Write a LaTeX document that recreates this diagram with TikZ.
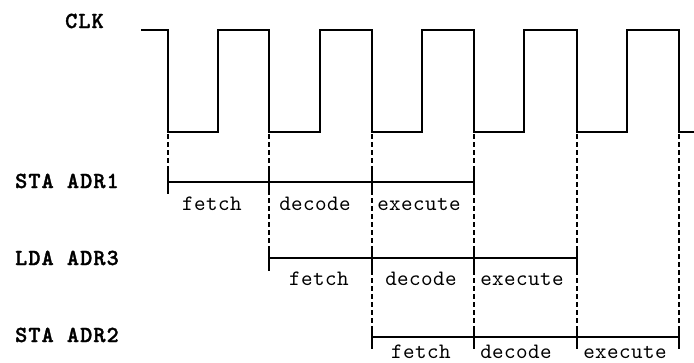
\documentclass[tikz,border=0pt]{standalone}
\usepackage{fontspec}
\newfontfamily\courfont{lmmono10-regular.otf}[LetterSpace=2]
\newfontfamily\courbfont{lmmonolt10-bold.otf}[LetterSpace=5,FakeBold=1.5]
\begin{document}
\begin{tikzpicture}[x=1pt,y=-1pt,
  sig/.style={line width=1.3pt},
  seg/.style={line width=1.2pt},
  guide/.style={line width=1.1pt,dash pattern=on 5pt off 3pt},
  lab/.style={anchor=base west,inner sep=0pt,font=\courbfont\fontsize{23}{23}\selectfont},
  phase/.style={anchor=base,inner sep=0pt,font=\courfont\fontsize{22}{22}\selectfont}]
\useasboundingbox (0,0) rectangle (694,362);
% clock
\draw[sig] (141,30) -- (168,30) -- (168,132) -- (218,132) -- (218,30) -- (269,30) -- (269,132)
  -- (320,132) -- (320,30) -- (372,30) -- (372,132) -- (422,132) -- (422,30) -- (474,30)
  -- (474,132) -- (524,132) -- (524,30) -- (577,30) -- (577,132) -- (627,132) -- (627,30)
  -- (679,30) -- (679,132) -- (694,132);
% guides
\draw[guide] (168,134) -- (168,172);
\draw[guide] (269,134) -- (269,248);
\foreach \x in {372,474,577,679} \draw[guide] (\x,134) -- (\x,326);
% instruction lines
\draw[seg] (168,182) -- (474,182);
\foreach \x in {168,269,372,474} \draw[seg] (\x,171) -- (\x,194);
\draw[seg] (269,258) -- (577,258);
\foreach \x in {269,372,474,577} \draw[seg] (\x,247) -- (\x,271);
\draw[seg] (372,337) -- (679,337);
\foreach \x in {372,474,577,679} \draw[seg] (\x,326) -- (\x,349);
% labels
\node[lab] (clk) at (65,28) {CLK};
\node[lab] (i1) at (15,188) {STA ADR1};
\node[lab] (i2) at (15,265) {LDA ADR3};
\node[lab] (i3) at (15,342) {STA ADR2};
% phases
\node[phase] (f1) at (212,210) {fetch};
\node[phase] (d1) at (315,210) {decode};
\node[phase] (e1) at (419,210) {execute};
\node[phase] (f2) at (319,285) {fetch};
\node[phase] (d2) at (421,285) {decode};
\node[phase] (e2) at (522,285) {execute};
\node[phase] (f3) at (421,358) {fetch};
\node[phase] (d3) at (516,358) {decode};
\node[phase] (e3) at (625,358) {execute};
\end{tikzpicture}
\end{document}
